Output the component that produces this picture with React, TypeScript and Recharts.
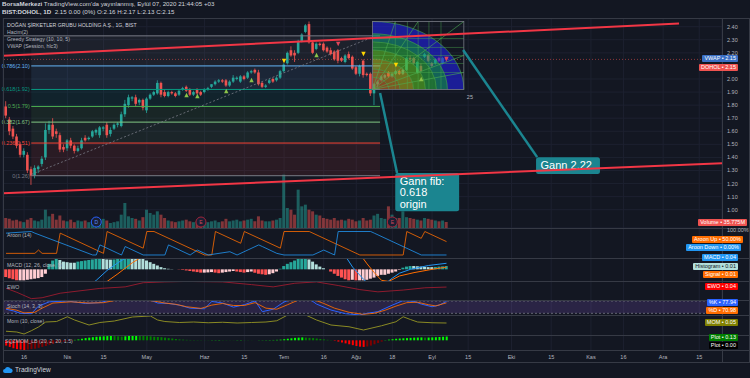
import React from 'react'
import {
  ComposedChart, Bar, Line, XAxis, YAxis, CartesianGrid,
  ReferenceLine, ReferenceArea, ReferenceDot, Cell,
} from 'recharts'

// daily OHLC, 9 Mar -> 7 Sep 2020 (bar index 0..122)
const candles: [number, number, number, number][] = [
  [1.79, 1.83, 1.70, 1.72], [1.69, 1.71, 1.57, 1.60], [1.62, 1.64, 1.54, 1.56], [1.56, 1.58, 1.47, 1.49],
  [1.50, 1.52, 1.40, 1.42], [1.42, 1.47, 1.40, 1.45], [1.42, 1.44, 1.28, 1.30], [1.31, 1.33, 1.19, 1.26],
  [1.26, 1.34, 1.24, 1.32], [1.31, 1.34, 1.28, 1.33], [1.35, 1.41, 1.33, 1.39], [1.40, 1.66, 1.38, 1.61],
  [1.61, 1.68, 1.58, 1.65], [1.65, 1.70, 1.54, 1.56], [1.60, 1.62, 1.55, 1.58], [1.57, 1.59, 1.44, 1.46],
  [1.48, 1.50, 1.44, 1.46], [1.47, 1.54, 1.45, 1.53], [1.53, 1.55, 1.47, 1.49], [1.49, 1.50, 1.43, 1.45],
  [1.45, 1.49, 1.44, 1.47], [1.47, 1.55, 1.46, 1.53], [1.55, 1.57, 1.52, 1.53], [1.54, 1.56, 1.53, 1.55],
  [1.56, 1.61, 1.55, 1.60], [1.59, 1.62, 1.57, 1.61], [1.57, 1.64, 1.55, 1.63], [1.62, 1.64, 1.60, 1.63],
  [1.65, 1.67, 1.55, 1.57], [1.58, 1.63, 1.56, 1.61], [1.62, 1.66, 1.61, 1.65], [1.65, 1.67, 1.63, 1.66],
  [1.64, 1.75, 1.63, 1.73], [1.73, 1.84, 1.71, 1.81], [1.80, 1.88, 1.78, 1.86], [1.85, 1.87, 1.83, 1.86],
  [1.86, 1.88, 1.79, 1.81], [1.82, 1.85, 1.80, 1.84], [1.84, 1.85, 1.76, 1.78], [1.76, 1.86, 1.74, 1.85],
  [1.85, 1.89, 1.84, 1.88], [1.88, 1.91, 1.87, 1.90], [1.89, 1.99, 1.88, 1.97], [1.97, 1.98, 1.86, 1.88],
  [1.90, 1.92, 1.86, 1.87], [1.87, 1.91, 1.86, 1.90], [1.90, 1.91, 1.88, 1.89], [1.89, 1.90, 1.86, 1.87],
  [1.88, 1.92, 1.87, 1.91], [1.92, 1.94, 1.91, 1.93], [1.94, 1.95, 1.90, 1.91], [1.92, 1.93, 1.87, 1.88],
  [1.88, 1.91, 1.87, 1.90], [1.92, 1.93, 1.88, 1.89], [1.90, 1.91, 1.87, 1.88], [1.90, 1.93, 1.89, 1.92],
  [1.92, 1.94, 1.91, 1.93], [1.94, 1.96, 1.93, 1.96], [1.96, 1.99, 1.95, 1.98], [1.98, 2.00, 1.97, 1.99],
  [1.99, 2.00, 1.97, 1.98], [1.99, 2.00, 1.94, 1.95], [1.95, 1.99, 1.94, 1.98], [1.98, 2.03, 1.97, 2.01],
  [2.00, 2.02, 1.99, 2.01], [1.98, 2.03, 1.97, 2.02], [2.02, 2.03, 1.99, 2.00], [2.01, 2.06, 2.00, 2.05],
  [2.05, 2.07, 2.04, 2.06], [2.07, 2.08, 2.04, 2.05], [2.05, 2.07, 1.95, 1.96], [1.97, 1.98, 1.93, 1.94],
  [1.94, 1.96, 1.93, 1.95], [1.97, 2.00, 1.96, 1.99], [2.00, 2.01, 1.97, 1.98], [1.99, 2.02, 1.98, 2.01],
  [2.01, 2.07, 2.00, 2.06], [2.06, 2.12, 2.05, 2.11], [2.12, 2.21, 2.11, 2.20], [2.22, 2.25, 2.17, 2.18],
  [2.20, 2.22, 2.13, 2.18], [2.20, 2.30, 2.19, 2.29], [2.29, 2.35, 2.28, 2.34], [2.36, 2.42, 2.35, 2.41],
  [2.42, 2.44, 2.27, 2.28], [2.28, 2.29, 2.19, 2.20], [2.23, 2.28, 2.22, 2.27], [2.27, 2.28, 2.25, 2.26],
  [2.27, 2.28, 2.21, 2.22], [2.24, 2.25, 2.20, 2.21], [2.22, 2.24, 2.18, 2.19], [2.21, 2.22, 2.14, 2.15],
  [2.22, 2.23, 2.12, 2.14], [2.16, 2.17, 2.13, 2.14], [2.13, 2.19, 2.12, 2.18], [2.19, 2.21, 2.15, 2.16],
  [2.17, 2.18, 2.07, 2.08], [2.09, 2.10, 2.03, 2.04], [2.04, 2.11, 2.02, 2.10], [2.14, 2.15, 2.01, 2.03],
  [2.04, 2.05, 2.02, 2.03], [2.04, 2.05, 1.87, 1.89], [1.89, 1.97, 1.80, 1.96], [1.96, 1.99, 1.94, 1.98],
  [1.99, 2.03, 1.98, 2.02], [2.01, 2.04, 2.00, 2.03], [2.05, 2.06, 2.01, 2.02], [2.02, 2.05, 2.01, 2.04],
  [2.04, 2.07, 2.03, 2.06], [2.06, 2.07, 2.03, 2.04], [2.04, 2.08, 2.03, 2.07], [2.07, 2.17, 2.06, 2.16],
  [2.16, 2.18, 2.13, 2.15], [2.16, 2.17, 2.11, 2.12], [2.05, 2.14, 2.04, 2.13], [2.10, 2.12, 2.05, 2.06],
  [2.17, 2.20, 2.16, 2.19], [2.18, 2.19, 2.13, 2.14], [2.12, 2.13, 2.09, 2.10], [2.12, 2.16, 2.11, 2.15],
  [2.16, 2.17, 2.13, 2.14], [2.12, 2.17, 2.11, 2.16], [2.16, 2.17, 2.13, 2.15],
]

// volume in millions
const volumes = [
  60, 55, 45, 50, 40, 35, 50, 60, 45, 40, 50,
  110, 70, 85, 50, 75, 45, 40, 50, 35, 45,
  40, 45, 35, 40, 50, 35, 55, 45, 30, 35, 40, 80, 150,
  70, 60, 55, 45, 65, 110, 90, 80, 100, 80, 60,
  45, 40, 35, 40, 45, 50, 40, 35, 40, 45, 30, 35, 40, 45, 35, 40,
  55, 40, 45, 50, 40, 45, 50, 55, 40, 70, 45, 40, 40, 45, 50, 60,
  320, 120, 110, 80, 230, 130, 140, 110, 100, 80, 75, 60, 55, 50,
  60, 45, 50, 45, 55, 50, 40, 45, 60, 45, 50, 75, 85, 60, 55,
  130, 80, 60, 60, 100, 65, 60, 55, 50, 45, 60, 55, 50, 45, 40, 45, 36,
]

const tickIdx = [5, 17, 27, 39, 55, 66, 77, 88, 97, 107, 118, 128, 140, 151, 162, 171, 182, 192]
const tickLabels = ['16', 'Nis', '15', 'May', 'Haz', '15', 'Tem', '16', 'Ağu', '18', 'Eyl', '15', 'Eki', '15', 'Kas', '16', 'Ara', '15']
// 2.10 sits under the DOHOL price badge
const priceTicks = [1.0, 1.1, 1.2, 1.3, 1.4, 1.5, 1.6, 1.7, 1.8, 1.9, 2.0, 2.2, 2.3, 2.4]

// fib retracement drawn from the March low to the July high
const fibRatios = ['1', '0.786', '0.618', '0.5', '0.382', '0.236', '0']
const fibPrices = [2.33, 2.10, 1.92, 1.79, 1.67, 1.51, 1.26]
const fibSpan = [7, 103.6]
const fibTrend = [7, 1.27, 101.5, 2.32]

// channel lines [x1, y1, x2, y2]
const channelLines = [
  [-0.83, 2.177, 186.4, 2.4245],
  [-0.83, 1.126, 198.3, 1.356],
]

const gannBox = { x1: 101.5, x2: 126.8, low: 1.92, high: 2.44 }
const gannRings = [1.0, 0.82, 0.7, 0.58, 0.45, 0.3, 0.18]
const gannLevels = [0.25, 0.382, 0.5, 0.618, 0.75]

const callouts = [
  { lines: ['Gann fib:', '0.618', 'origin'], from: [103.6, 1.893], to: [108.3, 1.281], box: [107.8, 125.5, 0.989, 1.281] },
  { lines: ['Gann 2.22'], from: [126.6, 2.222], to: [147.1, 1.402], box: [146.8, 164.5, 1.273, 1.402] },
]

// Greedy Strategy markers [bar, price]
const buySignals = [[50, 1.877], [53, 1.870], [61, 1.908], [68, 1.992], [86, 2.183], [115, 2.0]]
const sellSignals = [[77, 2.138], [99, 2.191], [108, 2.107]]
const exitSignals = [[92, 2.268], [122, 2.153]]

const events = [{ i: 25, kind: 'D' }, { i: 54, kind: 'E' }, { i: 107, kind: 'E' }]

// Aroon (14) vertices [bar, value]
const aroonUp = [[0, 7], [8, 7], [9, 21], [10, 7], [14, 7], [15, 93], [16, 86], [27, 7], [28, 100], [38, 29], [39, 100], [41, 100], [55, 0], [57, 0], [58, 100], [65, 50], [66, 100], [76, 29], [77, 100], [84, 100], [98, 0], [110, 0], [111, 100], [115, 71], [116, 100], [122, 57]]
const aroonDown = [[0, 93], [7, 100], [8, 93], [24, 0], [25, 0], [26, 43], [27, 36], [31, 7], [32, 0], [33, 36], [34, 29], [38, 0], [44, 0], [45, 43], [46, 36], [51, 0], [53, 21], [56, 0], [62, 14], [64, 0], [70, 43], [71, 36], [75, 7], [77, 0], [85, 0], [88, 21], [90, 7], [91, 0], [92, 100], [101, 100], [102, 93], [115, 0], [122, 0]]

// MACD (12, 26, 9)
const macdLine = [[0, -3], [22, -1.8], [25, -1.0], [28, -0.1], [31, 0.6], [34, 1.2], [38, 2.2], [50, 3], [75, 2.5], [85, 3.2], [94, 1.2], [96, 0.2], [99, -0.9], [102, -1.8], [105, -1.3], [107, -0.8], [109, -0.35], [112, 0.0], [117, 0.35], [122, 0.55]]
const macdSignal = [[0, -2.5], [25, -2.0], [28, -1.1], [31, -0.4], [35, 0.6], [38, 1.2], [45, 2.3], [75, 2.8], [88, 3.0], [98, 1.4], [100, 0.5], [102, -0.3], [104, -1.0], [106, -1.1], [109, -0.6], [113, -0.3], [118, 0.0], [122, 0.2]]
const macdHist = [
  -0.7, -0.8, -0.9, -1.0, -1.0, -1.0,
  -0.95, -0.9, -0.85, -0.8, -0.7, -0.4,
  0.5, 0.8, 1.0,
  0.85, 0.7, 0.65, 0.6, 0.6,
  0.7, 0.75, 0.8, 0.85, 0.9, 0.95, 1.0,
  0.95, 0.9, 0.88, 0.9,
  0.98, 1.0, 1.05, 1.1, 1.1, 1.05, 1.0, 0.95,
  0.8, 0.65, 0.5, 0.35, 0.2, 0.1,
  0.05, 0.02, 0.0, -0.02, -0.05,
  -0.1, -0.15, -0.2, -0.25, -0.3, -0.3, -0.28, -0.25, -0.3, -0.35, -0.3, -0.25, -0.2,
  -0.15, -0.2, -0.25, -0.3, -0.25, -0.2, -0.3,
  -0.4, -0.45, -0.5, -0.45, -0.35, -0.2, 0.05,
  0.3, 0.5, 0.65, 0.8, 0.95, 1.05, 1.1,
  0.9, 0.7, 0.45, 0.25, 0.1, 0.0,
  -0.2, -0.4, -0.6, -0.75, -0.9, -1.0,
  -0.95, -1.0, -1.0, -1.0, -0.95,
  -0.85, -0.75, -0.6, -0.5, -0.5,
  -0.4, -0.3, -0.2, -0.05,
  0.15, 0.25, 0.3, 0.3,
  0.28, 0.25, 0.22, 0.2, 0.2,
  0.22, 0.25, 0.27, 0.3,
]

const ewo = [[0, 0.25], [3, -0.2], [7, -0.9], [10, -0.8], [15, -0.3], [26, 0.23], [33, 0.4], [38, 0.86], [44, 0.95], [50, 1.0], [60, 0.95], [68, 0.65], [74, 0.4], [80, 0.8], [86, 0.95], [92, 0.55], [98, 0.1], [103, -0.15], [110, 0.05], [116, 0.3], [122, 0.38]]

const stochK = [[0, 40], [2, 32], [4, 20], [7, 18], [9, 55], [12, 76], [17, 80], [22, 68], [26, 72], [29, 85], [35, 92], [40, 85], [42, 70], [45, 68], [48, 60], [51, 45], [55, 42], [57, 78], [60, 70], [63, 50], [66, 62], [69, 80], [71, 28], [74, 40], [77, 75], [80, 95], [84, 90], [86, 65], [90, 36], [94, 18], [98, 12], [100, 20], [103, 28], [107, 60], [110, 82], [113, 78], [115, 65], [118, 52], [120, 60], [122, 78]]
const stochD = [[0, 45], [3, 35], [5, 22], [8, 25], [10, 45], [13, 70], [18, 76], [23, 70], [27, 72], [30, 82], [36, 88], [41, 80], [44, 70], [47, 64], [50, 52], [54, 44], [57, 60], [60, 68], [63, 58], [66, 58], [69, 72], [72, 45], [75, 40], [78, 62], [81, 85], [85, 88], [88, 68], [91, 45], [95, 25], [99, 15], [102, 20], [105, 35], [108, 55], [111, 72], [114, 74], [117, 62], [119, 56], [122, 71]]

const mom = [[0, -0.27], [3, -0.3], [5, -0.38], [7, -0.25], [9, -0.1], [11, 0.1], [14, 0.12], [17, 0.31], [19, 0.18], [23, -0.02], [26, 0.08], [30, 0.14], [35, 0.3], [40, 0.34], [42, 0.18], [44, 0.12], [48, 0.08], [52, 0.1], [56, 0.07], [60, 0.09], [64, 0.06], [68, 0.08], [72, 0.1], [75, 0.15], [78, 0.38], [81, 0.42], [83, 0.38], [86, 0.18], [90, -0.02], [95, -0.09], [99, -0.22], [104, -0.05], [108, 0.11], [110, 0.31], [112, 0.2], [114, 0.1], [118, 0.07], [122, 0.06]]

const sqz = [
  -1.2, -1.5, -1.8, -2.0, -2.1, -2.2, -2.1, -2.0, -1.9, -1.7, -1.5, -1.3, -1.0, -0.8, -0.6, -0.4,
  -0.3, -0.2, -0.1, 0.1, 0.2, 0.35, 0.5,
  0.6, 0.7, 0.8, 0.85, 0.9, 0.95, 1.0, 0.95, 0.9, 0.85, 0.9, 1.0, 1.05, 1.1, 1.05, 1.0, 0.95, 0.9, 0.8, 0.75, 0.7, 0.6, 0.5, 0.4, 0.3, 0.2,
  0.15, 0.1, 0.08, 0.06, 0.05, 0.04, 0.03, 0.03, 0.04, 0.05, 0.06, 0.05, 0.04, 0.03, 0.03, 0.04, 0.05, 0.04, 0.03, 0.02, 0.02, 0.03, 0.04, 0.05, 0.06, 0.08, 0.1, 0.15,
  0.25, 0.35, 0.45, 0.55, 0.6, 0.65, 0.6, 0.55, 0.5, 0.4, 0.3, 0.2, 0.1, 0.05,
  -0.1, -0.3, -0.5, -0.7, -0.9, -1.1, -1.3, -1.45, -1.5, -1.4, -1.2, -0.9, -0.6, -0.3,
  0.05, 0.15, 0.25, 0.35, 0.4, 0.45, 0.5, 0.55, 0.6, 0.62, 0.65, 0.6, 0.62, 0.66, 0.7, 0.75, 0.8, 0.85,
]

const badges = [
  { name: 'VWAP', value: '2.15' }, { name: 'DOHOL', value: '2.15' }, { name: 'Volume', value: '35.775M' },
  { name: 'Aroon Up', value: '50.00%' }, { name: 'MACD', value: '0.04' }, { name: 'Aroon Down', value: '0.00%' },
  { name: 'Histogram', value: '0.01' }, { name: 'Signal', value: '0.01' }, { name: 'EWO', value: '0.04' },
  { name: '%K', value: '77.94' }, { name: '%D', value: '70.98' }, { name: 'MOM', value: '0.05' },
  { name: 'Plot', value: '0.13' }, { name: 'Plot', value: '0.00' },
]

// ---- styling ----
const W = 750
const BG = '#131722'
const GRID = '#1d2130'
const SEP = '#363a45'
const TEXT = '#b2b5be'
const UP = '#26a69a'
const DOWN = '#ef5350'
const TEAL_NOTE = '#1b8590'
const FONT = '"Liberation Sans", Arial, sans-serif'
const X_DOMAIN: [number, number] = [-0.83, 198.3]
const PRICE_DOMAIN: [number, number] = [0.86, 2.4666]
const PANE_MARGIN = { top: 0, right: 28, bottom: 0, left: 3 }
const FIB_COLORS = ['#787b86', '#64b5f6', '#089981', '#4caf50', '#81c784', '#f44336', '#787b86']
const FIB_FILLS = ['rgba(120,123,134,0.10)', 'rgba(100,181,246,0.10)', 'rgba(0,150,136,0.10)', 'rgba(76,175,80,0.10)', 'rgba(129,199,132,0.08)', 'rgba(244,67,54,0.10)']
const GANN_FILLS = ['rgba(33,33,230,0.6)', 'rgba(20,150,125,0.6)', 'rgba(40,170,65,0.6)', 'rgba(90,190,35,0.6)', 'rgba(170,175,30,0.6)', 'rgba(195,135,35,0.6)', 'rgba(210,110,40,0.6)']
const BADGE_LAYOUT = [
  { y: 58.8, r: 738, bg: '#3a6fc4', fg: '#fff' }, { y: 67.2, r: 738, bg: '#ef5350', fg: '#fff' },
  { y: 222.7, r: 747, bg: '#ef5350', fg: '#fff' }, { y: 239.3, r: 743, bg: '#ff6d00', fg: '#fff' },
  { y: 257.3, r: 738, bg: '#2196f3', fg: '#fff' }, { y: 247.6, r: 741, bg: '#2196f3', fg: '#fff' },
  { y: 266, r: 738, bg: '#b2dfdb', fg: '#131722' }, { y: 274.3, r: 738, bg: '#ff6d00', fg: '#fff' },
  { y: 286, r: 738, bg: '#ff0000', fg: '#fff' }, { y: 302, r: 738, bg: '#2962ff', fg: '#fff' },
  { y: 310.3, r: 738, bg: '#ff6d00', fg: '#fff' }, { y: 322, r: 738, bg: '#808000', fg: '#fff' },
  { y: 337, r: 738, bg: '#008000', fg: '#fff' }, { y: 345, r: 738, bg: '#000000', fg: '#fff' },
]

const rows = candles.map(([o, h, l, c], i) => ({ i, o, h, l, c, range: [l, h], vol: volumes[i] }))
const pts = (arr: number[][]) => arr.map(([i, v]) => ({ i, v }))
const macdRows = macdHist.map((v, i) => ({ i, v }))
const sqzRows = sqz.map((v, i) => ({ i, v }))
const last = candles[candles.length - 1]

const histColor = (v: number, prev: number) =>
  v >= 0 ? (v > prev ? UP : '#b2dfdb') : (v < prev ? '#ff5252' : '#ffcdd2')
const sqzColor = (v: number, prev: number) =>
  v >= 0 ? (v > prev ? '#00ff00' : '#008000') : (v < prev ? '#ff0000' : '#800000')

const Candle = (props: any) => {
  const { x, y, width, height, payload } = props
  if (!payload || x == null) return null
  const { o, h, l, c } = payload
  const color = c >= o ? UP : DOWN
  const top = Math.min(y, y + height)
  const hgt = Math.abs(height)
  const py = (v: number) => top + ((h - v) / (h - l)) * hgt
  const cx = x + width / 2
  const bTop = py(Math.max(o, c))
  const bBot = py(Math.min(o, c))
  return (
    <g>
      <line x1={cx} x2={cx} y1={top} y2={top + hgt} stroke={color} strokeWidth={0.8} />
      <rect x={cx - 1.3} y={bTop} width={2.6} height={Math.max(0.8, bBot - bTop)} fill={color} />
    </g>
  )
}

const GannFan = (p: any) => {
  const { x, y, width: w, height: h } = p
  const ox = x
  const oy = y + h
  const ring = (ro: number, ri: number) => {
    const outer = `M${ox + ro * w},${oy} A${ro * w},${ro * h} 0 0 0 ${ox},${oy - ro * h}`
    if (ri <= 0) return `${outer} L${ox},${oy} Z`
    return `${outer} L${ox},${oy - ri * h} A${ri * w},${ri * h} 0 0 1 ${ox + ri * w},${oy} Z`
  }
  const fan = [[1, 0.25], [1, 0.5], [1, 1], [0.5, 1], [0.25, 1]]
  return (
    <g>
      {gannRings.map((r, k) => (
        <path key={`r${k}`} d={ring(r, gannRings[k + 1] ?? 0)} fill={GANN_FILLS[k]} />
      ))}
      {gannRings.map((r, k) => (
        <path key={`a${k}`} d={`M${ox + r * w},${oy} A${r * w},${r * h} 0 0 0 ${ox},${oy - r * h}`} fill="none" stroke="#4caf50" strokeOpacity={0.7} strokeWidth={0.8} />
      ))}
      {gannLevels.map((f, k) => (
        <g key={`g${k}`} stroke="#4caf50" strokeOpacity={0.6} strokeWidth={0.7}>
          <line x1={x + f * w} x2={x + f * w} y1={y} y2={oy} />
          <line x1={x} x2={x + w} y1={oy - f * h} y2={oy - f * h} />
        </g>
      ))}
      {fan.map(([a, b], k) => (
        <line key={`f${k}`} x1={ox} y1={oy} x2={ox + a * w} y2={oy - b * h} stroke="#4caf50" strokeOpacity={0.75} strokeWidth={0.8} />
      ))}
      <rect x={x} y={y} width={w} height={h} fill="none" stroke="#787b86" strokeWidth={0.8} />
      <text x={x + w + 3} y={oy + 10} fill={TEXT} fontSize={5.5} fontFamily={FONT}>25</text>
    </g>
  )
}

const calloutShape = (lines: string[]) => (p: any) => {
  const { x, y, width, height } = p
  return (
    <g>
      <rect x={x} y={y} width={width} height={height} rx={2.5} fill={TEAL_NOTE} />
      {lines.map((t, k) => (
        <text key={k} x={x + 4.5} y={y + 12 + k * 11.5} fill="#ffffff" fontSize={11} fontFamily={FONT}>{t}</text>
      ))}
    </g>
  )
}

const triangle = (color: string, up: boolean) => (p: any) => {
  const { cx, cy } = p
  const s = 2.2
  const d = up
    ? `M${cx},${cy - s} L${cx + s},${cy + s} L${cx - s},${cy + s} Z`
    : `M${cx - s},${cy - s} L${cx + s},${cy - s} L${cx},${cy + s} Z`
  return <path d={d} fill={color} />
}

const Txt = ({ x, y, size = 5.5, color = TEXT, bold = false, children }: any) => (
  <div style={{ position: 'absolute', left: x, top: y - size * 0.65, fontSize: size, lineHeight: `${size * 1.3}px`, color, fontWeight: bold ? 700 : 400, whiteSpace: 'nowrap' }}>
    {children}
  </div>
)

const HLine = ({ y, x1 = 3, x2 = 749 }: any) => (
  <div style={{ position: 'absolute', left: x1, top: y, width: x2 - x1, height: 1, background: SEP }} />
)
const VLine = ({ x, y1, y2 }: any) => (
  <div style={{ position: 'absolute', left: x, top: y1, width: 1, height: y2 - y1, background: SEP }} />
)

const Pane = ({ top, height, data, children, withAxis = false }: any) => (
  <div style={{ position: 'absolute', left: 0, top }}>
    <ComposedChart width={W} height={height} data={data} margin={PANE_MARGIN}>
      <XAxis
        dataKey="i" type="number" domain={X_DOMAIN} ticks={tickIdx} interval={0} allowDataOverflow
        hide={!withAxis} height={withAxis ? 12 : 0} axisLine={false} tickLine={false} tickSize={0} tickMargin={5}
        tick={{ fill: TEXT, fontSize: 5.5 }}
        tickFormatter={(v: number) => tickLabels[tickIdx.indexOf(v)] ?? ''}
      />
      <CartesianGrid horizontal={false} stroke={GRID} />
      {children}
    </ComposedChart>
  </div>
)

export default function App() {
  return (
    <div style={{ position: 'relative', width: W, height: 378, background: BG, fontFamily: FONT, overflow: 'hidden' }}>
      <style>{'body{margin:0;background:#131722}'}</style>

      {/* header */}
      <Txt x={2} y={4.5} size={6.2} color="#d1d4dc">
        <b>BorsaMerkezi</b> TradingView.com&apos;da yayınlanmış, Eylül 07, 2020 21:44:05 +03
      </Txt>
      <Txt x={2} y={12.5} size={6.2} color="#d1d4dc">
        <b>BIST:DOHOL, 1D</b>&nbsp; {last[3].toFixed(2)} 0.00 (0%) O:{last[0].toFixed(2)} H:{last[1].toFixed(2)} L:{last[2].toFixed(2)} C:{last[3].toFixed(2)}
      </Txt>

      {/* main price pane */}
      <div style={{ position: 'absolute', left: 0, top: 18 }}>
        <ComposedChart width={W} height={210} data={rows} margin={{ top: 0, right: 0, bottom: 0, left: 3 }}>
          <XAxis dataKey="i" type="number" domain={X_DOMAIN} ticks={tickIdx} allowDataOverflow hide />
          <XAxis xAxisId="xv" dataKey="i" type="number" domain={X_DOMAIN} allowDataOverflow hide />
          <YAxis
            orientation="right" width={28} domain={PRICE_DOMAIN} ticks={priceTicks} interval={0} allowDataOverflow
            axisLine={false} tickLine={false} tickSize={0} tickMargin={5}
            tick={{ fill: TEXT, fontSize: 5.5 }} tickFormatter={(v: number) => v.toFixed(2)}
          />
          <YAxis yAxisId="vol" hide domain={[0, 1260]} allowDataOverflow />
          <CartesianGrid stroke={GRID} />
          {fibPrices.slice(0, -1).map((p, k) => (
            <ReferenceArea key={`fz${k}`} x1={fibSpan[0]} x2={fibSpan[1]} y1={fibPrices[k + 1]} y2={p} fill={FIB_FILLS[k]} fillOpacity={1} stroke="none" ifOverflow="visible" />
          ))}
          {fibPrices.map((p, k) => (
            <ReferenceLine
              key={`fl${k}`}
              segment={[{ x: k === 0 ? X_DOMAIN[0] : fibSpan[0], y: p }, { x: fibSpan[1], y: p }]}
              stroke={FIB_COLORS[k]} strokeWidth={1} ifOverflow="visible"
              label={k === 0 ? undefined : { value: `${fibRatios[k]}(${p.toFixed(2)})`, position: 'left', fill: FIB_COLORS[k], fontSize: 5.5, offset: 1.5 }}
            />
          ))}
          <ReferenceLine y={last[3]} stroke={DOWN} strokeOpacity={0.55} strokeDasharray="1 2" />
          <Bar xAxisId="xv" yAxisId="vol" dataKey="vol" barSize={3} isAnimationActive={false}>
            {rows.map((r) => (
              <Cell key={r.i} fill={r.c >= r.o ? 'rgba(38,166,154,0.5)' : 'rgba(239,83,80,0.5)'} />
            ))}
          </Bar>
          <Bar dataKey="range" barSize={3} isAnimationActive={false} shape={(p: any) => <Candle {...p} />} />
          {events.map((e) => (
            <ReferenceDot
              key={`ev${e.i}`} xAxisId="xv" yAxisId="vol" x={e.i} y={36} r={5}
              fill="#1a1f33" stroke={e.kind === 'D' ? '#2962ff' : '#a3243a'} strokeWidth={1}
              label={{ value: e.kind, position: 'center', fill: e.kind === 'D' ? '#5b8cff' : '#d0465a', fontSize: 5 }}
            />
          ))}
        </ComposedChart>
      </div>

      {/* drawings on top of the price pane */}
      <div style={{ position: 'absolute', left: 0, top: 18, pointerEvents: 'none' }}>
        <ComposedChart width={W} height={210} margin={PANE_MARGIN}>
          <XAxis dataKey="i" type="number" domain={X_DOMAIN} allowDataOverflow hide />
          <YAxis hide domain={PRICE_DOMAIN} allowDataOverflow />
          <ReferenceArea x1={gannBox.x1} x2={gannBox.x2} y1={gannBox.low} y2={gannBox.high} ifOverflow="visible" shape={(p: any) => <GannFan {...p} />} />
          <ReferenceLine segment={[{ x: fibTrend[0], y: fibTrend[1] }, { x: fibTrend[2], y: fibTrend[3] }]} stroke="#787b86" strokeDasharray="2 2" strokeWidth={0.8} ifOverflow="visible" />
          {channelLines.map((l, k) => (
            <ReferenceLine key={`ch${k}`} segment={[{ x: l[0], y: l[1] }, { x: l[2], y: l[3] }]} stroke="#f23645" strokeWidth={2} ifOverflow="visible" />
          ))}
          {callouts.map((c, k) => (
            <ReferenceLine key={`cl${k}`} segment={[{ x: c.from[0], y: c.from[1] }, { x: c.to[0], y: c.to[1] }]} stroke={TEAL_NOTE} strokeWidth={2.5} ifOverflow="visible" />
          ))}
          {callouts.map((c, k) => (
            <ReferenceArea key={`cb${k}`} x1={c.box[0]} x2={c.box[1]} y1={c.box[2]} y2={c.box[3]} ifOverflow="visible" shape={calloutShape(c.lines)} />
          ))}
          {buySignals.map(([i, p]) => (
            <ReferenceDot key={`b${i}`} x={i} y={p} r={2} ifOverflow="visible" shape={triangle('#8bc34a', true)} />
          ))}
          {sellSignals.map(([i, p]) => (
            <ReferenceDot key={`s${i}`} x={i} y={p} r={2} ifOverflow="visible" shape={triangle('#ffd600', false)} />
          ))}
          {exitSignals.map(([i, p]) => (
            <ReferenceDot key={`e${i}`} x={i} y={p} r={2} ifOverflow="visible" shape={triangle('#e0455a', false)} />
          ))}
        </ComposedChart>
      </div>

      {/* Aroon */}
      <Pane top={228} height={30}>
        <YAxis hide domain={[-12.8, 114.9]} allowDataOverflow />
        <Line data={pts(aroonUp)} dataKey="v" stroke="#ff6d00" strokeOpacity={0.8} strokeWidth={1} dot={false} isAnimationActive={false} />
        <Line data={pts(aroonDown)} dataKey="v" stroke="#2196f3" strokeOpacity={0.8} strokeWidth={1} dot={false} isAnimationActive={false} />
      </Pane>

      {/* MACD */}
      <Pane top={258} height={23} data={macdRows}>
        <YAxis hide domain={[-1.06, 1.03]} allowDataOverflow />
        <Bar dataKey="v" barSize={3} isAnimationActive={false}>
          {macdRows.map((r, k) => (
            <Cell key={k} fill={histColor(r.v, k > 0 ? macdHist[k - 1] : 0)} />
          ))}
        </Bar>
        <Line data={pts(macdLine)} dataKey="v" stroke="#2196f3" strokeWidth={1} dot={false} isAnimationActive={false} />
        <Line data={pts(macdSignal)} dataKey="v" stroke="#ff6d00" strokeWidth={1} dot={false} isAnimationActive={false} />
      </Pane>

      {/* EWO */}
      <Pane top={281} height={19}>
        <YAxis hide domain={[-1.05, 1.05]} allowDataOverflow />
        <Line data={pts(ewo)} dataKey="v" stroke="#8e1b2e" strokeWidth={1} dot={false} isAnimationActive={false} />
      </Pane>

      {/* Stoch */}
      <Pane top={300} height={15}>
        <YAxis hide domain={[11.7, 84.9]} allowDataOverflow />
        <ReferenceArea y1={20} y2={80} fill="#7e57c2" fillOpacity={0.22} stroke="none" />
        <ReferenceLine y={80} stroke="#787b86" strokeDasharray="2 2" strokeWidth={0.8} />
        <ReferenceLine y={20} stroke="#787b86" strokeDasharray="2 2" strokeWidth={0.8} />
        <Line data={pts(stochK)} dataKey="v" stroke="#2962ff" strokeWidth={1} dot={false} isAnimationActive={false} />
        <Line data={pts(stochD)} dataKey="v" stroke="#ff6d00" strokeOpacity={0.85} strokeWidth={1} dot={false} isAnimationActive={false} />
      </Pane>

      {/* Momentum */}
      <Pane top={315} height={20}>
        <YAxis hide domain={[-0.42, 0.38]} allowDataOverflow />
        <Line data={pts(mom)} dataKey="v" stroke="#8a8a24" strokeWidth={1} dot={false} isAnimationActive={false} />
      </Pane>

      {/* Squeeze momentum + time axis */}
      <Pane top={335} height={27} data={sqzRows} withAxis>
        <YAxis hide domain={[-2.2, 1.2]} allowDataOverflow />
        <Bar dataKey="v" barSize={2} isAnimationActive={false}>
          {sqzRows.map((r, k) => (
            <Cell key={k} fill={sqzColor(r.v, k > 0 ? sqz[k - 1] : 0)} />
          ))}
        </Bar>
      </Pane>

      {/* frame and pane separators */}
      <HLine y={18} />
      {[228, 258, 281, 300, 315, 335, 350].map((y) => <HLine key={y} y={y} />)}
      <HLine y={362} />
      <VLine x={3} y1={18} y2={363} />
      <VLine x={722} y1={18} y2={363} />
      <VLine x={749} y1={18} y2={363} />

      {/* legends */}
      <Txt x={7} y={25} size={5.2} color="#d1d4dc">DOĞAN ŞİRKETLER GRUBU HOLDİNG A.Ş., 1G, BIST</Txt>
      <Txt x={7} y={32.3} size={5.2}>Hacim(2)</Txt>
      <Txt x={7} y={39.3} size={5.2}>Greedy Strategy (10, 10, 5)</Txt>
      <Txt x={7} y={46.7} size={5.2}>VWAP (Session, hlc3)</Txt>
      <Txt x={7} y={235} size={5.2}>Aroon (14)</Txt>
      <Txt x={7} y={265} size={5.2}>MACD (12, 26, close, 9)</Txt>
      <Txt x={7} y={287.7} size={5.2}>EWO</Txt>
      <Txt x={7} y={306.7} size={5.2}>Stoch (14, 3, 3)</Txt>
      <Txt x={7} y={321.7} size={5.2}>Mom (10, close)</Txt>
      <Txt x={5} y={341.7} size={5.2}>SQZMOM_LB (20, 2, 20, 1.5)</Txt>
      <Txt x={727} y={230.7} size={5.5}>100.00%</Txt>

      {/* value badges on the scale */}
      {badges.map((b, k) => {
        const s = BADGE_LAYOUT[k]
        return (
          <div key={k} style={{ position: 'absolute', right: W - s.r, top: s.y - 3.5, height: 7, lineHeight: '7px', padding: '0 2px', fontSize: 5.5, background: s.bg, color: s.fg, borderRadius: 1, whiteSpace: 'nowrap' }}>
            {b.name} • {b.value}
          </div>
        )
      })}

      {/* logo */}
      <div style={{ position: 'absolute', left: 3, top: 366, display: 'flex', alignItems: 'center', gap: 2 }}>
        <svg width={10} height={7} viewBox="0 0 10 7">
          <path d="M2 7 A2 2 0 0 1 2 3 A3 3 0 0 1 7.5 2.5 A2.3 2.3 0 0 1 8 7 Z" fill="#2196f3" />
        </svg>
        <span style={{ fontSize: 6.5, color: '#d1d4dc' }}>TradingView</span>
      </div>
    </div>
  )
}
